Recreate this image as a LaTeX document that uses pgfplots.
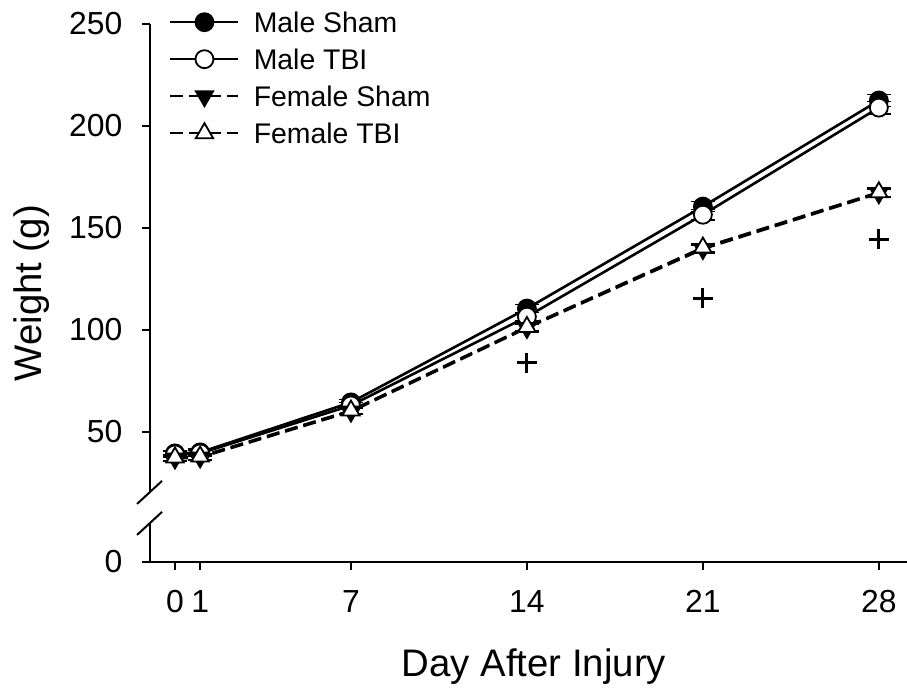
\documentclass[border=0pt]{standalone}
\usepackage{fontspec}
\setmainfont{Liberation Sans}
\usepackage{pgfplots}
\pgfplotsset{compat=1.18}
\begin{document}
\begin{tikzpicture}
\begin{axis}[
  x=25.14bp, y=2.04bp,
  xmin=-1, xmax=29.1, ymin=-13.7, ymax=250,
  axis x line*=bottom, axis y line*=left,
  x axis line style={line width=2bp, shorten <=-8bp},
  y axis line style={draw opacity=0},
  xtick={0,1,7,14,21,28},
  ytick={-13.7,50,100,150,200,250},
  yticklabels={0,50,100,150,200,250},
  tick align=outside, major tick length=8bp,
  every tick/.style={black, line width=2bp},
  tick label style={font=\fontsize{32}{38}\selectfont},
  yticklabel style={xshift=-16bp},
  xticklabel style={yshift=-17bp},
  /pgf/number format/assume math mode=true,
  clip=false,
  xlabel={Day After Injury},
  xlabel style={at={(axis cs:14.28,-70.1)}, anchor=base, font=\fontsize{38.5}{46}\selectfont},
  ylabel={Weight (g)},
  ylabel style={at={(axis cs:-5.3,118)}, anchor=base, font=\fontsize{38.5}{46}\selectfont},
  legend cell align=left,
  legend style={draw=none, fill=none, at={(axis cs:-0.239,256.86)}, anchor=north west,
    font=\fontsize{28.5}{34}\selectfont, row sep=13bp, column sep=14bp, inner sep=0pt,
    nodes={inner sep=0pt, text height=20bp, text depth=0bp}},
  legend image code/.code={\path[draw=none, fill=none] (0bp,-12bp) rectangle (68bp,12bp);
    \draw[mark repeat=2,mark phase=2,#1] plot coordinates {(0bp,0bp)(34bp,0bp)(68bp,0bp)};},
  error bars/error bar style={line width=1.6bp, solid},
  error bars/error mark options={rotate=90, mark size=12bp, line width=1.6bp, solid},
]
% Male Sham
\addplot[black, line width=2.6bp, mark=*, mark size=9bp, mark options={solid, fill=black, line width=1.8bp},
  error bars/.cd, y dir=both, y explicit]
  coordinates {(0,39.5) +- (0,1.5) (1,40) +- (0,1.5) (7,64.5) +- (0,1.5) (14,110.5) +- (0,2) (21,160.5) +- (0,2.5) (28,212.5) +- (0,3)};
\addlegendentry{Male Sham}
% Male TBI
\addplot[black, line width=2.6bp, mark=*, mark size=9bp, mark options={solid, fill=white, line width=1.8bp},
  error bars/.cd, y dir=both, y explicit]
  coordinates {(0,39) +- (0,1.5) (1,39.5) +- (0,1.5) (7,63) +- (0,1.5) (14,106.5) +- (0,2) (21,156.5) +- (0,2.5) (28,209) +- (0,3)};
\addlegendentry{Male TBI}
% Female Sham
\addplot[black, line width=2.6bp, dash pattern=on 13bp off 6bp, mark=triangle*, mark size=10bp, mark options={solid, rotate=180, fill=black, line width=1.8bp},
  error bars/.cd, y dir=both, y explicit]
  coordinates {(0,37) +- (0,1.5) (1,37.5) +- (0,1.5) (7,60) +- (0,1.5) (14,101) +- (0,2) (21,139.7) +- (0,2) (28,167) +- (0,2)};
\addlegendentry{Female Sham}
% Female TBI
\addplot[black, line width=2.6bp, dash pattern=on 13bp off 6bp, mark=triangle*, mark size=10bp, mark options={solid, fill=white, line width=1.8bp},
  error bars/.cd, y dir=both, y explicit]
  coordinates {(0,37.5) +- (0,1.5) (1,38) +- (0,1.5) (7,60.5) +- (0,1.5) (14,101.5) +- (0,2) (21,140.4) +- (0,2) (28,167.5) +- (0,2)};
\addlegendentry{Female TBI}
% significance markers
\addplot[forget plot, only marks, mark=+, mark size=10bp, mark options={line width=3bp}]
  coordinates {(14,84) (21,115.5) (28,144.5)};
% broken y axis
\draw[line width=2bp] (axis cs:-1,250) -- (axis cs:-1,20.6);
\draw[line width=2bp] (axis cs:-1,5.4) -- (axis cs:-1,-13.7);
\draw[line width=2bp] (axis cs:-1.51,14.7) -- (axis cs:-0.517,26.0);
\draw[line width=2bp] (axis cs:-1.51,-0.5) -- (axis cs:-0.517,10.8);
\coordinate (bbll) at (axis cs:-6.961,-75.98);
\coordinate (bbur) at (axis cs:29.12,261.76);
\end{axis}
\pgfresetboundingbox
\path[use as bounding box] (bbll) rectangle (bbur);
\end{tikzpicture}
\end{document}
